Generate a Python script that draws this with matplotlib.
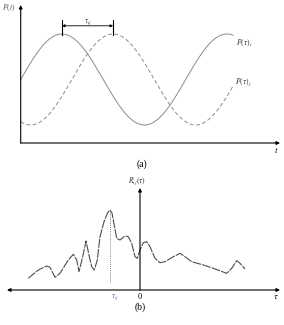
import numpy as np
import matplotlib
matplotlib.use("Agg")
import matplotlib.pyplot as plt

plt.rcParams['font.family'] = ['Liberation Serif', 'DejaVu Serif']
plt.rcParams['mathtext.fontset'] = 'stix'

# ---- panel (a): two phase-shifted periodic signals (period = 1 unit) ----
period = 1.0
amplitude = 1.0
phase_i = 0.0      # peak of P(t)_i at t = 0.25
phase_j = 0.31     # P(t)_j lags by tau_ij
t_end = 1.287
tau_ij_a = (0.25, 0.56)

# ---- panel (b): cross-correlation R_ij(tau) ----
tau_vals = [-11.17, -10.17, -9.33, -9.0, -8.5, -8.0, -7.17, -6.67, -6.33, -6.1,
            -5.73, -5.4, -5.07, -4.83, -4.57, -4.27, -4.0, -3.6, -3.25, -3.0,
            -2.8, -2.67, -2.33, -2.0, -1.5, -1.17, -0.83, -0.5, -0.27, 0.0,
            0.33, 0.67, 1.0, 1.5, 2.0, 2.5, 3.33, 4.0, 4.5, 5.17, 6.33, 7.33,
            8.67, 9.17, 9.67, 10.0, 10.5]
r_vals = [1.17, 2.0, 2.4, 2.27, 1.27, 1.67, 3.0, 3.57, 3.0, 1.83,
          3.33, 4.9, 3.33, 2.33, 2.0, 3.0, 5.33, 6.83, 7.7, 8.0,
          7.7, 7.0, 5.17, 5.0, 5.4, 5.33, 4.67, 3.33, 3.17, 4.0,
          4.73, 4.83, 4.33, 3.17, 2.73, 2.83, 3.33, 3.67, 3.33, 2.83, 2.5, 2.17,
          1.67, 2.17, 2.93, 2.67, 2.1]
tau_peak = -3.0

W, H = 284, 325
fig = plt.figure(figsize=(W / 100, H / 100), dpi=100)

grey = '#8c8c8c'

# ---------- panel (a) ----------
axa = fig.add_axes([20.7 / W, 1 - 143 / H, (280 - 20.7) / W, (143 - 5) / H])
axa.set_xlim(0, 1.5715)
axa.set_ylim(-1.396, 1.637)
axa.axis('off')

t = np.linspace(0, t_end, 400)
axa.plot(t, amplitude * np.sin(2 * np.pi * (t - phase_i) / period), color=grey, lw=0.7)
axa.plot(t, amplitude * np.sin(2 * np.pi * (t - phase_j) / period), color=grey, lw=0.7,
         dashes=(4, 2.5))

arr = dict(arrowstyle='-|>', lw=0.8, color='black', shrinkA=0, shrinkB=0, mutation_scale=5)
axa.annotate('', xy=(0, 1), xytext=(0, 0), xycoords='axes fraction', arrowprops=arr)
axa.annotate('', xy=(1, 0), xytext=(0, 0), xycoords='axes fraction', arrowprops=arr)

for x in tau_ij_a:
    axa.plot([x, x], [0.98, 1.31], color='black', lw=0.8)
axa.annotate('', xy=(tau_ij_a[0], 1.18), xytext=(tau_ij_a[1], 1.18),
             arrowprops=dict(arrowstyle='<|-|>', lw=0.6, color='black', shrinkA=0,
                             shrinkB=0, mutation_scale=4))
axa.text(0.408, 1.27, r'$\tau_{ij}$', fontsize=5.5, ha='center', va='center', color='#444444')
axa.text(1.305, 0.80, r'$P(\tau)_i$', fontsize=5.5, ha='left', va='center', color='#333333')
axa.text(1.30, -0.05, r'$P(\tau)_j$', fontsize=5.5, ha='left', va='center', color='#333333')
axa.text(-0.071, 1.55, r'$P(t)$', fontsize=5.5, ha='center', va='center', color='#555555')
axa.text(1.547, -1.56, r'$t$', fontsize=6.5, ha='center', va='center')
axa.text(0.735, -1.86, '(a)', fontsize=7, ha='center', va='center')

# ---------- panel (b) ----------
axb = fig.add_axes([7 / W, 1 - 290 / H, (280 - 7) / W, (290 - 188) / H])
axb.set_xlim(-13.3, 14.0)
axb.set_ylim(0, 10.2)
axb.axis('off')

axb.annotate('', xy=(1, 0), xytext=(0, 0), xycoords='axes fraction',
             arrowprops=dict(arrowstyle='<|-|>', lw=0.8, color='black', shrinkA=0,
                             shrinkB=0, mutation_scale=5))
axb.annotate('', xy=(0, 10.2), xytext=(0, 0),
             arrowprops=dict(arrowstyle='-|>', lw=0.8, color='black', shrinkA=0,
                             shrinkB=0, mutation_scale=5))

axb.plot(tau_vals, r_vals, color='#4d4d4d', lw=0.8, dashes=(8, 1))
axb.plot([tau_peak, tau_peak], [0.8, 8.0], color='#888888', lw=0.7, ls=(0, (1, 1)))

axb.text(-0.3, 10.9, r'$R_{ij}(\tau)$', fontsize=5.5, ha='center', va='center', color='#333333')
axb.text(0, -0.7, '0', fontsize=6, ha='center', va='center')
axb.text(13.6, -0.7, r'$\tau$', fontsize=6.5, ha='center', va='center')
axb.text(-2.5, -0.75, r'$\tau_{ij}$', fontsize=5.5, ha='center', va='center', color='#5a6f9a')
axb.text(0, -1.7, '(b)', fontsize=7, ha='center', va='center')

fig.savefig('out.png', dpi=100)
